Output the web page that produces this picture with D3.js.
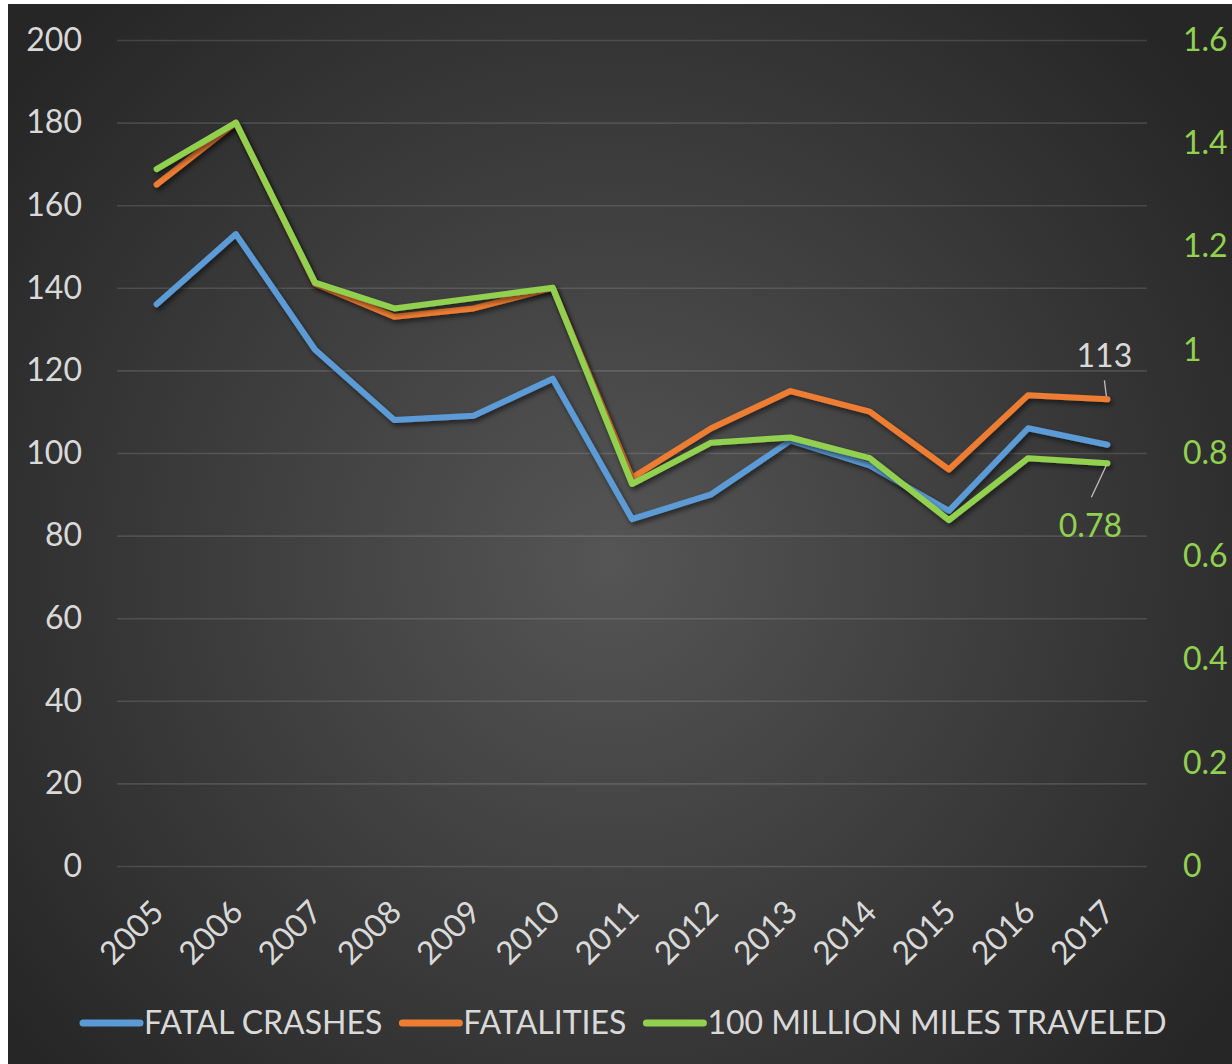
<!DOCTYPE html>
<html>
<head>
<meta charset="utf-8">
<script src="https://cdn.jsdelivr.net/npm/d3@7"></script>
<style>
  html, body { margin: 0; padding: 0; background: #ffffff; }
  svg { display: block; }
  text { font-family: Lato, "Open Sans", sans-serif; }
</style>
</head>
<body>
<svg id="chart" width="1232" height="1064"></svg>
<script>
// Years on the category axis
const years = ["2005","2006","2007","2008","2009","2010","2011","2012","2013","2014","2015","2016","2017"];

// Left-axis series
const fatalCrashes = [136, 153, 125, 108, 109, 118, 84, 90, 103, 97, 86, 106, 102];
const fatalities   = [165, 180, 141, 133, 135, 140, 94, 106, 115, 110, 96, 114, 113];

// Right-axis series: fatality rate per 100 million miles traveled
const ratePer100M  = [1.35, 1.44, 1.13, 1.08, 1.10, 1.12, 0.74, 0.82, 0.83, 0.79, 0.67, 0.79, 0.78];

// Axis ticks
const leftTicks  = [0, 20, 40, 60, 80, 100, 120, 140, 160, 180, 200];
const rightTicks = [0, 0.2, 0.4, 0.6, 0.8, 1, 1.2, 1.4, 1.6];

const legendNames = ["FATAL CRASHES", "FATALITIES", "100 MILLION MILES TRAVELED"];
const colors = ["#5b9bd5", "#ed7d31", "#92d050"];

const svg = d3.select("#chart");
const W = 1232, H = 1064;
const plot = { left: 117, right: 1147, top: 40, bottom: 866 };

// Background panel with a soft radial glow
const defs = svg.append("defs");
const grad = defs.append("radialGradient")
  .attr("id", "bg").attr("gradientUnits", "userSpaceOnUse")
  .attr("cx", 610).attr("cy", 560).attr("r", 760);
grad.append("stop").attr("offset", "0%").attr("stop-color", "#555555");
grad.append("stop").attr("offset", "100%").attr("stop-color", "#262626");

const shadow = defs.append("filter").attr("id", "shadow")
  .attr("x", "-10%").attr("y", "-10%").attr("width", "120%").attr("height", "120%");
shadow.append("feDropShadow").attr("dx", 2).attr("dy", 3)
  .attr("stdDeviation", 2.5).attr("flood-color", "#000").attr("flood-opacity", 0.55);

svg.append("rect").attr("x", 8).attr("y", 4)
  .attr("width", W - 8).attr("height", H - 4).attr("fill", "url(#bg)");

// Scales
const x = d3.scaleBand().domain(years).range([plot.left, plot.right]);
const yL = d3.scaleLinear().domain([0, 200]).range([plot.bottom, plot.top]);
const yR = d3.scaleLinear().domain([0, 1.6]).range([plot.bottom, plot.top]);
const cx = d => x(d) + x.bandwidth() / 2;

// Gridlines
svg.append("g")
  .attr("transform", `translate(${plot.left},0)`)
  .call(d3.axisRight(yL).tickValues(leftTicks).tickSize(plot.right - plot.left).tickFormat(""))
  .call(g => g.select(".domain").remove())
  .call(g => g.selectAll("line").attr("stroke", "#ffffff").attr("stroke-opacity", 0.13).attr("stroke-width", 1.6));

// Left axis labels
svg.append("g")
  .attr("transform", `translate(${plot.left},0)`)
  .call(d3.axisLeft(yL).tickValues(leftTicks).tickSize(0).tickPadding(35).tickFormat(d3.format("d")))
  .call(g => g.select(".domain").remove())
  .call(g => g.selectAll("text")
    .attr("fill", "#d9d9d9").style("font-size", "32px").style("font-family", "Lato, sans-serif"));

// Right axis labels
svg.append("g")
  .attr("transform", `translate(${plot.right},0)`)
  .call(d3.axisRight(yR).tickValues(rightTicks).tickSize(0).tickPadding(36).tickFormat(d => String(+d.toFixed(1))))
  .call(g => g.select(".domain").remove())
  .call(g => g.selectAll("text")
    .attr("fill", "#92d050").style("font-size", "32px").style("font-family", "Lato, sans-serif"));

// Category labels, rotated
svg.append("g")
  .attr("transform", `translate(0,${plot.bottom})`)
  .call(d3.axisBottom(x).tickSize(0).tickPadding(0))
  .call(g => g.select(".domain").remove())
  .call(g => g.selectAll("text")
    .attr("fill", "#d9d9d9").style("font-size", "32px").style("font-family", "Lato, sans-serif")
    .attr("text-anchor", "end").attr("dy", 0).attr("y", 0)
    .attr("transform", "translate(9,48) rotate(-45)"));

// Series lines
const series = [
  { values: fatalCrashes, y: yL, color: colors[0] },
  { values: fatalities,   y: yL, color: colors[1] },
  { values: ratePer100M,  y: yR, color: colors[2] }
];
series.forEach(s => {
  const line = d3.line().x((d, i) => cx(years[i])).y(d => s.y(d));
  svg.append("path").datum(s.values)
    .attr("d", line).attr("fill", "none")
    .attr("stroke", s.color).attr("stroke-width", 6)
    .attr("stroke-linecap", "round").attr("stroke-linejoin", "round")
    .attr("filter", "url(#shadow)");
});

// Data labels on the last year
const last = years.length - 1;
const lx = cx(years[last]);
const fy = yL(fatalities[last]);
svg.append("line").attr("x1", lx - 3).attr("y1", fy - 19).attr("x2", lx - 1).attr("y2", fy - 3)
  .attr("stroke", "#bfbfbf").attr("stroke-width", 1.3);
svg.append("text").attr("x", lx - 3).attr("y", fy - 32)
  .attr("text-anchor", "middle").attr("fill", "#d9d9d9").style("font-size", "32px")
  .text(d3.format("d")(fatalities[last]));

const ry = yR(ratePer100M[last]);
svg.append("line").attr("x1", lx - 1).attr("y1", ry + 2).attr("x2", lx - 16).attr("y2", ry + 34)
  .attr("stroke", "#bfbfbf").attr("stroke-width", 1.3);
svg.append("text").attr("x", lx - 17).attr("y", ry + 74)
  .attr("text-anchor", "middle").attr("fill", "#92d050").style("font-size", "32px")
  .text(String(ratePer100M[last]));

// Legend
const legend = svg.append("g").attr("transform", "translate(0,1023)");
let lxPos = 83;
legendNames.forEach((name, i) => {
  legend.append("line").attr("x1", lxPos).attr("x2", lxPos + 57).attr("y1", 0).attr("y2", 0)
    .attr("stroke", colors[i]).attr("stroke-width", 7).attr("stroke-linecap", "round");
  const t = legend.append("text").attr("x", lxPos + 61).attr("y", 11)
    .attr("fill", "#d9d9d9").style("font-size", "32px").text(name);
  lxPos += 61 + t.node().getComputedTextLength() + 20;
});
</script>
</body>
</html>
